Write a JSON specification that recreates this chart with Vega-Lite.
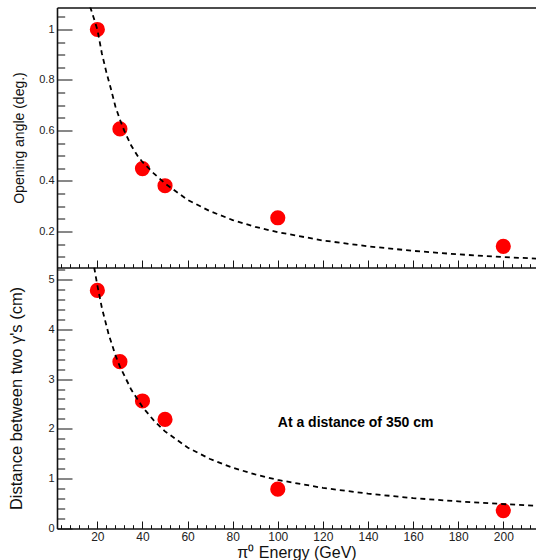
{
  "$schema": "https://vega.github.io/schema/vega-lite/v6.json",
  "padding": {"left": 8, "top": 7.5, "right": 0, "bottom": 0},
  "spacing": 0,
  "bounds": "flush",
  "config": {
    "font": "Liberation Sans",
    "view": {"stroke": null},
    "axis": {
      "grid": false,
      "domainColor": "#111",
      "domainWidth": 1.6,
      "tickColor": "#111",
      "tickWidth": 1,
      "labelColor": "#222",
      "titleColor": "#111",
      "titleFontWeight": "normal",
      "labelFont": "Liberation Sans",
      "titleFont": "Liberation Sans"
    }
  },
  "datasets": {
    "pts": [
      {"E": 20, "angle": 1.0, "dist": 4.78},
      {"E": 30, "angle": 0.606, "dist": 3.35},
      {"E": 40, "angle": 0.449, "dist": 2.56},
      {"E": 50, "angle": 0.381, "dist": 2.19},
      {"E": 100, "angle": 0.254, "dist": 0.79},
      {"E": 200, "angle": 0.141, "dist": 0.36}
    ],
    "curveTop": [
      {"E": 16.8, "v": 1.09},
      {"E": 20, "v": 1.0},
      {"E": 22, "v": 0.905},
      {"E": 24, "v": 0.83},
      {"E": 26, "v": 0.765},
      {"E": 28, "v": 0.695},
      {"E": 30, "v": 0.643},
      {"E": 32, "v": 0.597},
      {"E": 35, "v": 0.54},
      {"E": 38, "v": 0.497},
      {"E": 40, "v": 0.475},
      {"E": 45, "v": 0.43},
      {"E": 50, "v": 0.39},
      {"E": 60, "v": 0.325},
      {"E": 70, "v": 0.28},
      {"E": 80, "v": 0.245},
      {"E": 90, "v": 0.218},
      {"E": 100, "v": 0.197},
      {"E": 120, "v": 0.164},
      {"E": 140, "v": 0.141},
      {"E": 160, "v": 0.123},
      {"E": 180, "v": 0.109},
      {"E": 200, "v": 0.0985},
      {"E": 215, "v": 0.092}
    ],
    "curveBot": [
      {"E": 18.6, "v": 5.24},
      {"E": 20, "v": 4.88},
      {"E": 22, "v": 4.43},
      {"E": 25, "v": 3.9},
      {"E": 28, "v": 3.48},
      {"E": 30, "v": 3.25},
      {"E": 35, "v": 2.79},
      {"E": 40, "v": 2.44},
      {"E": 45, "v": 2.17},
      {"E": 50, "v": 1.95},
      {"E": 60, "v": 1.625},
      {"E": 70, "v": 1.395},
      {"E": 80, "v": 1.22},
      {"E": 90, "v": 1.085},
      {"E": 100, "v": 0.975},
      {"E": 120, "v": 0.815},
      {"E": 140, "v": 0.7},
      {"E": 160, "v": 0.61},
      {"E": 180, "v": 0.545},
      {"E": 200, "v": 0.49},
      {"E": 215, "v": 0.455}
    ],
    "note": [
      {"E": 100, "v": 2.03, "label": "At a distance of 350 cm"}
    ]
  },
  "vconcat": [
    {
      "width": 479,
      "height": 260,
      "layer": [
        {
          "data": {"name": "pts"},
          "mark": {"type": "circle", "color": "#ff0000", "opacity": 1, "size": 230},
          "encoding": {
            "x": {
              "field": "E", "type": "quantitative",
              "scale": {"domain": [2.1, 214.5], "nice": false, "zero": false},
              "axis": {
                "orient": "bottom", "labels": false, "title": null, "domain": true,
                "values": [4,8,12,16,20,24,28,32,36,40,44,48,52,56,60,64,68,72,76,80,84,88,92,96,100,104,108,112,116,120,124,128,132,136,140,144,148,152,156,160,164,168,172,176,180,184,188,192,196,200,204,208,212],
                "tickSize": {"condition": {"test": "datum.value % 20 === 0", "value": -7.5}, "value": -3.8}
              }
            },
            "y": {
              "field": "angle", "type": "quantitative",
              "scale": {"domain": [0.057, 1.087], "nice": false, "zero": false},
              "axis": {
                "orient": "left", "ticks": false, "domain": true,
                "values": [0.2, 0.4, 0.6, 0.8, 1],
                "format": "~g",
                "labelFontSize": 11, "labelPadding": 3,
                "title": "Opening angle (deg.)", "titleFontSize": 14, "titlePadding": 12
              }
            }
          }
        },
        {
          "data": {"name": "curveTop"},
          "mark": {"type": "line", "color": "#000", "strokeWidth": 1.8, "strokeDash": [5, 4], "clip": true},
          "encoding": {
            "x": {
              "field": "E", "type": "quantitative",
              "scale": {"domain": [2.1, 214.5], "nice": false, "zero": false},
              "axis": {"orient": "top", "labels": false, "ticks": false, "domain": true, "title": null}
            },
            "y": {
              "field": "v", "type": "quantitative",
              "scale": {"domain": [0.057, 1.087], "nice": false, "zero": false},
              "axis": {
                "orient": "left", "labels": false, "domain": false, "title": null,
                "values": [0.1,0.15,0.2,0.25,0.3,0.35,0.4,0.45,0.5,0.55,0.6,0.65,0.7,0.75,0.8,0.85,0.9,0.95,1,1.05],
                "tickSize": {"condition": {"test": "abs(datum.value*5 - round(datum.value*5)) < 0.001", "value": -15}, "value": -7.7}
              }
            }
          }
        }
      ],
      "resolve": {"axis": {"x": "independent", "y": "independent"}}
    },
    {
      "width": 479,
      "height": 261,
      "layer": [
        {
          "data": {"name": "pts"},
          "mark": {"type": "circle", "color": "#ff0000", "opacity": 1, "size": 230},
          "encoding": {
            "x": {
              "field": "E", "type": "quantitative",
              "scale": {"domain": [2.1, 214.5], "nice": false, "zero": false},
              "axis": {
                "orient": "bottom", "ticks": false, "domain": true,
                "values": [20,40,60,80,100,120,140,160,180,200],
                "labelFontSize": 12, "labelPadding": 3,
                "title": "π⁰ Energy (GeV)", "titleFontSize": 16, "titlePadding": 1.5
              }
            },
            "y": {
              "field": "dist", "type": "quantitative",
              "scale": {"domain": [0, 5.24], "nice": false, "zero": false},
              "axis": {
                "orient": "left", "ticks": false, "domain": true,
                "values": [0, 1, 2, 3, 4, 5],
                "format": "d",
                "labelFontSize": 11, "labelPadding": 3,
                "title": "Distance between two γ's (cm)", "titleFontSize": 16.5, "titlePadding": 23
              }
            }
          }
        },
        {
          "data": {"name": "curveBot"},
          "mark": {"type": "line", "color": "#000", "strokeWidth": 1.8, "strokeDash": [5, 4], "clip": true},
          "encoding": {
            "x": {
              "field": "E", "type": "quantitative",
              "scale": {"domain": [2.1, 214.5], "nice": false, "zero": false},
              "axis": {
                "orient": "bottom", "labels": false, "domain": false, "title": null,
                "values": [4,8,12,16,20,24,28,32,36,40,44,48,52,56,60,64,68,72,76,80,84,88,92,96,100,104,108,112,116,120,124,128,132,136,140,144,148,152,156,160,164,168,172,176,180,184,188,192,196,200,204,208,212],
                "tickSize": {"condition": {"test": "datum.value % 20 === 0", "value": -7.5}, "value": -3.8}
              }
            },
            "y": {
              "field": "v", "type": "quantitative",
              "scale": {"domain": [0, 5.24], "nice": false, "zero": false},
              "axis": {
                "orient": "left", "labels": false, "domain": false, "title": null,
                "values": [0,0.2,0.4,0.6,0.8,1,1.2,1.4,1.6,1.8,2,2.2,2.4,2.6,2.8,3,3.2,3.4,3.6,3.8,4,4.2,4.4,4.6,4.8,5,5.2],
                "tickSize": {"condition": {"test": "abs(datum.value - round(datum.value)) < 0.001", "value": -15}, "value": -7.7}
              }
            }
          }
        },
        {
          "data": {"name": "note"},
          "mark": {"type": "text", "font": "Liberation Sans", "fontWeight": "bold", "fontSize": 14, "align": "left", "baseline": "alphabetic", "color": "#000"},
          "encoding": {
            "x": {"field": "E", "type": "quantitative", "scale": {"domain": [2.1, 214.5], "nice": false, "zero": false}, "axis": null},
            "y": {"field": "v", "type": "quantitative", "scale": {"domain": [0, 5.24], "nice": false, "zero": false}, "axis": null},
            "text": {"field": "label"}
          }
        }
      ],
      "resolve": {"axis": {"x": "independent", "y": "independent"}}
    }
  ]
}
